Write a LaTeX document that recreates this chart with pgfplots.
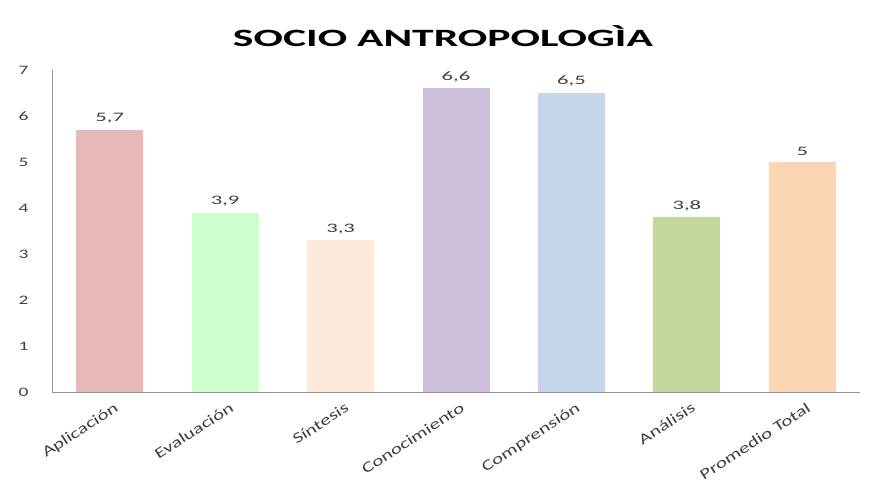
\documentclass[border=0pt]{standalone}
\usepackage{fontspec}
\setmainfont{Carlito}
\newfontfamily\titlefont[FakeStretch=1.75]{Carlito}
\newfontfamily\tickfont[FakeStretch=1.5]{Carlito}
\newfontfamily\xlabfont[FakeStretch=1.4]{Carlito}
\newfontfamily\valfont[FakeStretch=1.75]{Carlito}
\usepackage{pgfplots}
\pgfplotsset{compat=1.18}

\definecolor{cApl}{HTML}{E6B8B7}
\definecolor{cEva}{HTML}{CCFFCC}
\definecolor{cSin}{HTML}{FDE9D9}
\definecolor{cCon}{HTML}{CCC0DA}
\definecolor{cCom}{HTML}{C5D5EB}
\definecolor{cAna}{HTML}{C3D69B}
\definecolor{cPro}{HTML}{FCD5B4}
\definecolor{txt}{HTML}{404040}

\begin{document}
\begin{tikzpicture}[x=1bp,y=1bp]
\useasboundingbox (0,0) rectangle (872,484);
\node[font=\titlefont\fontsize{25}{30}\selectfont\bfseries, text=black] at (443,448) {SOCIO ANTROPOLOGÌA};
\begin{axis}[
  at={(52bp,92bp)}, anchor=south west,
  scale only axis,
  width=808bp, height=322bp,
  xmin=-0.5, xmax=6.5,
  ymin=0, ymax=7,
  ytick={0,...,7},
  xtick={0,...,6},
  xticklabels={Aplicación,Evaluación,Síntesis,Conocimiento,Comprensión,Análisis,Promedio Total},
  axis x line*=bottom,
  axis y line*=left,
  axis line style={draw=gray!80, line width=0.8pt},
  major tick length=0pt,
  /pgf/number format/assume math mode=true,
  yticklabel style={font=\tickfont\fontsize{13}{15}\selectfont, text=txt, xshift=-20bp},
  xticklabel style={font=\xlabfont\fontsize{15}{17}\selectfont, text=txt,
    rotate=33, anchor=north east, inner sep=1bp, xshift=-1bp, yshift=-9bp},
  ybar, bar width=67bp, bar shift=0pt,
  nodes near coords,
  every node near coord/.append style={font=\valfont\fontsize{13}{15}\selectfont, text=txt, yshift=3bp},
  /pgf/number format/.cd, use comma, fixed, precision=1,
]
\addplot[fill=cApl, draw=none] coordinates {(0,5.7)};
\addplot[fill=cEva, draw=none] coordinates {(1,3.9)};
\addplot[fill=cSin, draw=none] coordinates {(2,3.3)};
\addplot[fill=cCon, draw=none] coordinates {(3,6.6)};
\addplot[fill=cCom, draw=none] coordinates {(4,6.5)};
\addplot[fill=cAna, draw=none] coordinates {(5,3.8)};
\addplot[fill=cPro, draw=none] coordinates {(6,5)};
\end{axis}
\end{tikzpicture}
\end{document}
